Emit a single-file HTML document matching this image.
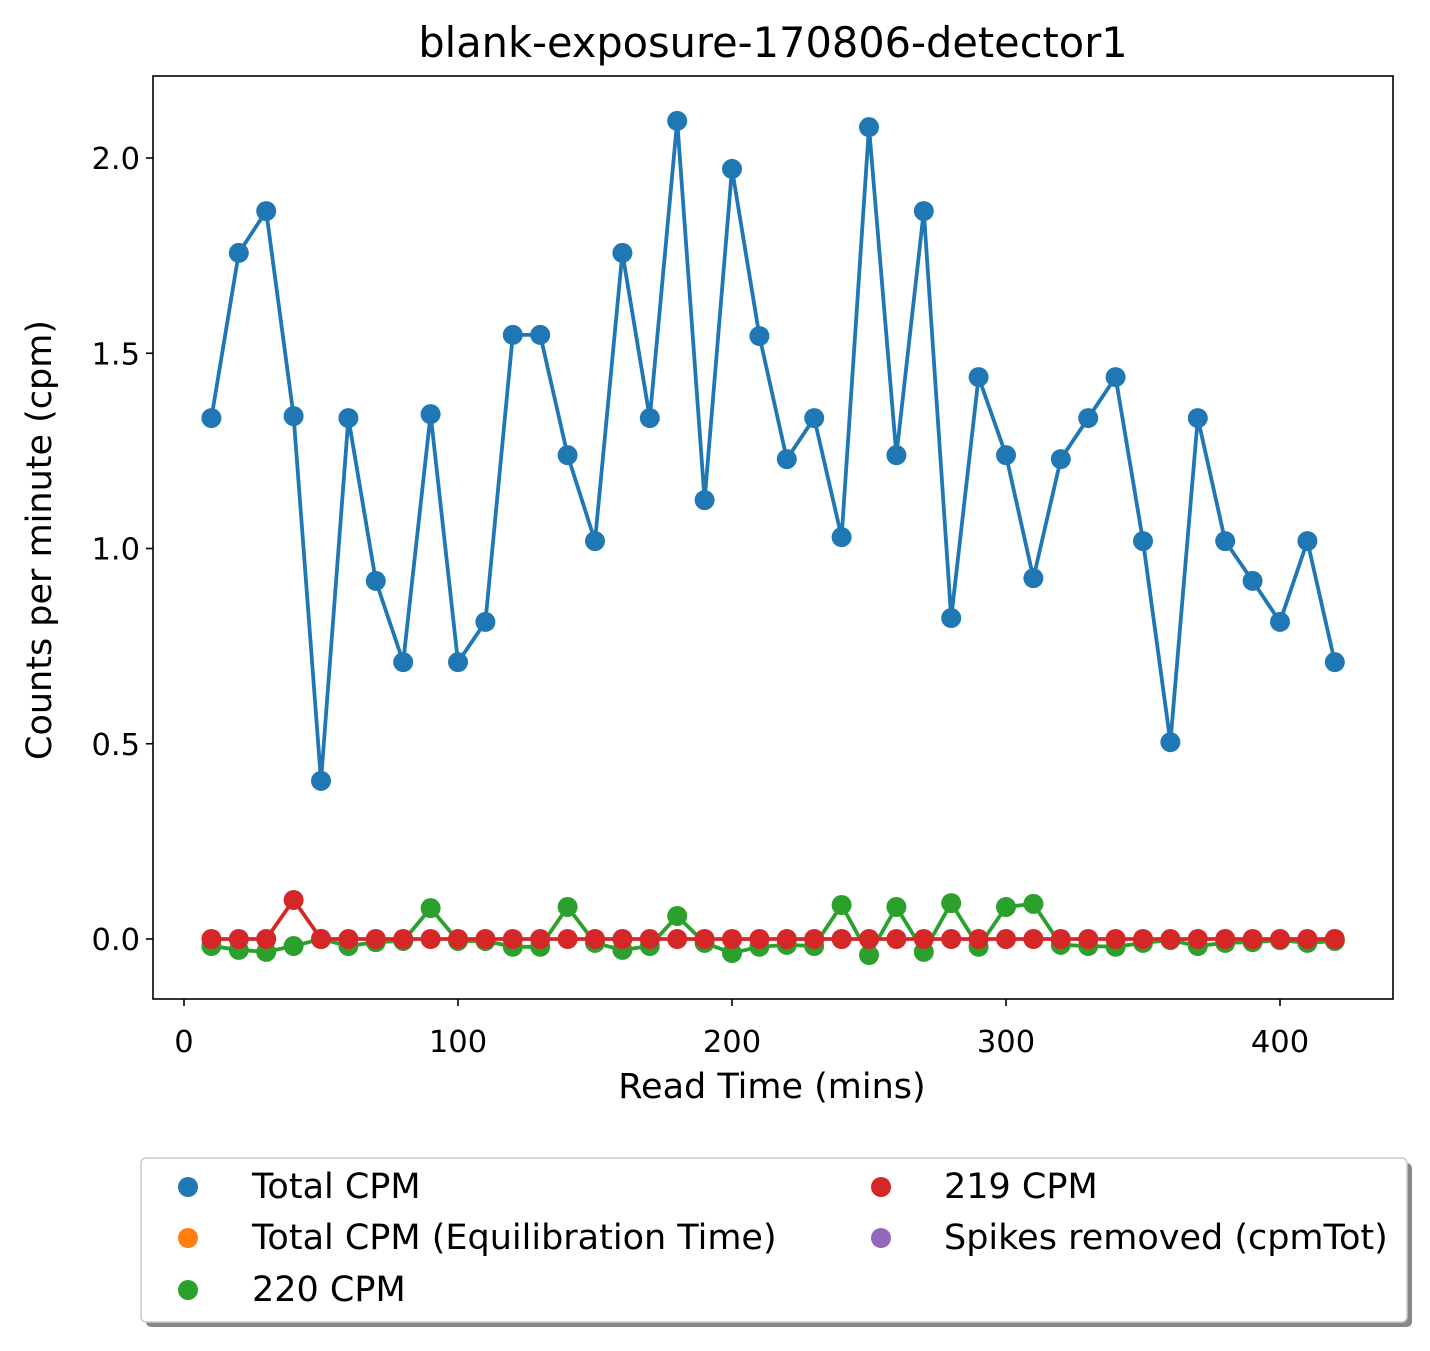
<!DOCTYPE html>
<html><head><meta charset="utf-8"><style>
html,body{margin:0;padding:0;background:#fff}
svg text{font-family:"DejaVu Sans","Liberation Sans",sans-serif;fill:#000}
</style></head><body>
<svg id="chart" width="1430" height="1346" xmlns="http://www.w3.org/2000/svg">
<rect width="1430" height="1346" fill="#fff"/>
<text x="773" y="57" style="font-size:41.5px" text-anchor="middle">blank-exposure-170806-detector1</text>
<g id="plot"></g>
<rect x="153" y="76" width="1240" height="923" fill="none" stroke="#000" stroke-width="1.6"/>
<g id="axes"></g>
<text x="772" y="1098" style="font-size:35px" text-anchor="middle">Read Time (mins)</text>
<text transform="translate(51,540) rotate(-90)" style="font-size:35px" text-anchor="middle">Counts per minute (cpm)</text>
<g>
<rect x="146" y="1163" width="1266" height="164" rx="5" fill="#888"/>
<rect x="141" y="1158" width="1266" height="164" rx="5" fill="#fff" stroke="#ccc" stroke-width="1.5"/>
<circle cx="188" cy="1187" r="10" fill="#1f77b4"/><text x="252" y="1198" style="font-size:35px">Total CPM</text>
<circle cx="188" cy="1238" r="10" fill="#ff7f0e"/><text x="252" y="1249" style="font-size:35px">Total CPM (Equilibration Time)</text>
<circle cx="188" cy="1290" r="10" fill="#2ca02c"/><text x="252" y="1301" style="font-size:35px">220 CPM</text>
<circle cx="881" cy="1187" r="10" fill="#d62728"/><text x="944" y="1198" style="font-size:35px">219 CPM</text>
<circle cx="881" cy="1238" r="10" fill="#9467bd"/><text x="944" y="1249" style="font-size:35px">Spikes removed (cpmTot)</text>
</g>
</svg>
<script>
const xValues=[10,20,30,40,50,60,70,80,90,100,110,120,130,140,150,160,170,180,190,200,210,220,230,240,250,260,270,280,290,300,310,320,330,340,350,360,370,380,390,400,410,420];
const totalCpm=[1.334,1.757,1.864,1.339,0.405,1.334,0.917,0.709,1.344,0.709,0.812,1.547,1.547,1.239,1.019,1.757,1.334,2.095,1.124,1.972,1.544,1.229,1.334,1.029,2.079,1.239,1.864,0.822,1.439,1.239,0.924,1.229,1.334,1.439,1.019,0.504,1.334,1.019,0.917,0.812,1.019,0.709];
const cpm220=[-0.018,-0.028,-0.033,-0.018,0,-0.018,-0.008,-0.005,0.079,-0.005,-0.005,-0.02,-0.02,0.082,-0.01,-0.028,-0.018,0.059,-0.01,-0.036,-0.02,-0.015,-0.018,0.087,-0.041,0.082,-0.033,0.092,-0.02,0.082,0.09,-0.015,-0.018,-0.02,-0.01,-0.003,-0.018,-0.01,-0.008,-0.003,-0.01,-0.005];
const cpm219=[0,0,0,0.1,0,0,0,0,0,0,0,0,0,0,0,0,0,0,0,0,0,0,0,0,0,0,0,0,0,0,0,0,0,0,0,0,0,0,0,0,0,0];
const xTicks=[0,100,200,300,400];
const yTicks=[0,0.5,1.0,1.5,2.0];
const yTickLabels=["0.0","0.5","1.0","1.5","2.0"];
const NS="http://www.w3.org/2000/svg";
const sx=v=>184+v*2.74, sy=v=>939-v*390.5;
const plot=document.getElementById('plot'), axes=document.getElementById('axes');
function series(vals,color,name){
  const pl=document.createElementNS(NS,'polyline');
  pl.setAttribute('points',xValues.map((x,i)=>sx(x)+','+sy(vals[i])).join(' '));
  pl.setAttribute('fill','none');pl.setAttribute('stroke',color);pl.setAttribute('stroke-width','3.8');
  
  
  plot.appendChild(pl);
  xValues.forEach((x,i)=>{
    const c=document.createElementNS(NS,'circle');
    c.setAttribute('cx',sx(x));c.setAttribute('cy',sy(vals[i]));c.setAttribute('r','10');c.setAttribute('fill',color);
    
    
    plot.appendChild(c);
  });
}
series(totalCpm,'#1f77b4','total-cpm');
series(cpm220,'#2ca02c','cpm-220');
series(cpm219,'#d62728','cpm-219');
xTicks.forEach(t=>{
  const l=document.createElementNS(NS,'line');
  l.setAttribute('x1',sx(t));l.setAttribute('x2',sx(t));l.setAttribute('y1',999);l.setAttribute('y2',1006);l.setAttribute('stroke','#000');l.setAttribute('stroke-width','1.6');
  
  
  axes.appendChild(l);
  const tx=document.createElementNS(NS,'text');
  tx.setAttribute('x',sx(t));tx.setAttribute('y',1052);tx.setAttribute('style','font-size:30.5px');tx.setAttribute('text-anchor','middle');tx.textContent=t;
  
  
  axes.appendChild(tx);
});
yTicks.forEach((t,i)=>{
  const l=document.createElementNS(NS,'line');
  l.setAttribute('x1',146);l.setAttribute('x2',153);l.setAttribute('y1',sy(t));l.setAttribute('y2',sy(t));l.setAttribute('stroke','#000');l.setAttribute('stroke-width','1.6');
  
  
  axes.appendChild(l);
  const tx=document.createElementNS(NS,'text');
  tx.setAttribute('x',140);tx.setAttribute('y',sy(t)+11);tx.setAttribute('style','font-size:30.5px');tx.setAttribute('text-anchor','end');tx.textContent=yTickLabels[i];
  
  
  axes.appendChild(tx);
});
</script>
</body></html>
